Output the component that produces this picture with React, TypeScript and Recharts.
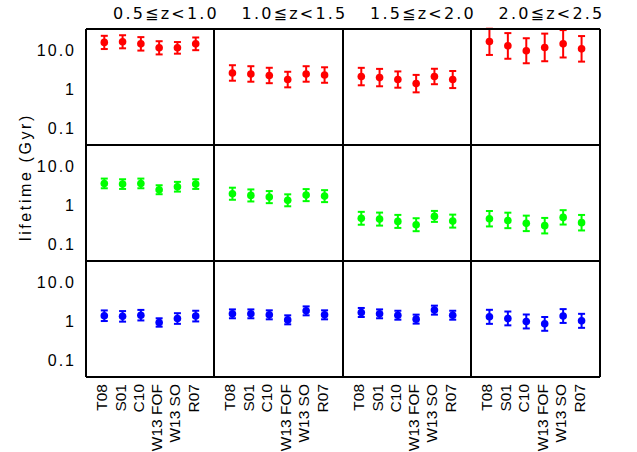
import React from 'react';
import { ScatterChart, Scatter, XAxis, YAxis, ErrorBar } from 'recharts';

// Halo-finder / model labels along the x axis of every panel
const models = ['T08', 'S01', 'C10', 'W13 FOF', 'W13 SO', 'R07'];
// Redshift bins, one per column
const redshiftBins = ['0.5≦z<1.0', '1.0≦z<1.5', '1.5≦z<2.0', '2.0≦z<2.5'];
const lifetimeTicks = [0.1, 1, 10];
const minorTicks = [0.04, 0.05, 0.06, 0.07, 0.08, 0.09, 0.2, 0.3, 0.4, 0.5, 0.6, 0.7, 0.8, 0.9, 2, 3, 4, 5, 6, 7, 8, 9, 20];

// Top row (red): lifetime in Gyr and its lower / upper bounds, per redshift bin
const redLifetime = [
  [13.5, 14.0, 12.4, 9.8, 9.8, 12.4],
  [2.19, 2.06, 1.88, 1.48, 2.06, 1.94],
  [1.77, 1.66, 1.48, 1.16, 1.77, 1.48],
  [14.3, 11.0, 8.2, 10.0, 12.4, 9.2],
];
const redLower = [
  [9.1, 9.5, 8.3, 6.6, 6.9, 8.5],
  [1.38, 1.30, 1.19, 0.93, 1.30, 1.22],
  [1.05, 0.99, 0.91, 0.69, 1.12, 0.89],
  [6.4, 5.1, 3.9, 4.4, 5.5, 4.3],
];
const redUpper = [
  [20.0, 20.7, 18.5, 14.5, 13.8, 18.1],
  [3.47, 3.27, 2.98, 2.35, 3.27, 3.07],
  [2.97, 2.79, 2.40, 1.95, 2.81, 2.46],
  [30.5, 23.5, 17.3, 22.8, 28.1, 19.7],
];

// Middle row (green)
const greenLifetime = [
  [3.04, 2.92, 3.04, 2.09, 2.50, 2.92],
  [1.65, 1.49, 1.35, 1.11, 1.52, 1.43],
  [0.38, 0.364, 0.317, 0.26, 0.427, 0.323],
  [0.372, 0.336, 0.282, 0.246, 0.403, 0.294],
];
const greenLower = [
  [2.28, 2.19, 2.28, 1.60, 1.87, 2.19],
  [1.15, 1.04, 0.94, 0.78, 1.06, 1.00],
  [0.26, 0.247, 0.215, 0.177, 0.308, 0.219],
  [0.235, 0.212, 0.178, 0.155, 0.263, 0.185],
];
const greenUpper = [
  [4.06, 3.90, 4.06, 2.73, 3.34, 3.90],
  [2.36, 2.13, 1.93, 1.59, 2.17, 2.04],
  [0.56, 0.536, 0.467, 0.383, 0.592, 0.475],
  [0.59, 0.533, 0.447, 0.39, 0.619, 0.466],
];

// Bottom row (blue)
const blueLifetime = [
  [1.15, 1.11, 1.19, 0.77, 0.98, 1.13],
  [1.29, 1.29, 1.22, 0.90, 1.54, 1.22],
  [1.40, 1.29, 1.19, 0.94, 1.61, 1.19],
  [1.08, 0.98, 0.82, 0.71, 1.13, 0.85],
];
const blueLower = [
  [0.84, 0.81, 0.87, 0.60, 0.71, 0.82],
  [0.99, 0.99, 0.93, 0.69, 1.18, 0.93],
  [1.07, 0.99, 0.91, 0.72, 1.23, 0.91],
  [0.71, 0.65, 0.54, 0.47, 0.75, 0.56],
];
const blueUpper = [
  [1.58, 1.52, 1.63, 0.99, 1.34, 1.55],
  [1.68, 1.68, 1.59, 1.18, 2.01, 1.59],
  [1.83, 1.68, 1.55, 1.23, 2.10, 1.55],
  [1.64, 1.48, 1.24, 1.07, 1.71, 1.29],
];

const rows = [
  { color: '#ff0000', values: redLifetime, lower: redLower, upper: redUpper },
  { color: '#00ff00', values: greenLifetime, lower: greenLower, upper: greenUpper },
  { color: '#0000ff', values: blueLifetime, lower: blueLower, upper: blueUpper },
];

const FONT = '"Liberation Sans", Arial, Helvetica, sans-serif';
const TITLE_FONT = '"DejaVu Sans", "Liberation Sans", sans-serif';
const COL_EDGES = [86, 214, 343, 471, 600];
const ROW_EDGES = [29, 145, 261, 377];
const Y_DOMAIN: [number, number] = [0.03, 30];
const X_DOMAIN: [number, number] = [0, 7];
const X_TICKS = [1, 2, 3, 4, 5, 6];
// axes are drawn on the frame itself, so they take (almost) no room
const THIN = 0.01;

const formatLifetime = (v: number) => (v >= 10 ? v.toFixed(1) : String(v));

const YLabelTick = (props: any) => {
  const { x, y, payload } = props;
  return (
    <text x={x} y={y} dy={9} textAnchor="end" fontFamily={FONT} fontSize={16} letterSpacing={2} fill="#000">
      {formatLifetime(payload.value)}
    </text>
  );
};

const XLabelTick = (props: any) => {
  const { x, y, payload } = props;
  const name = models[Math.round(payload.value) - 1] ?? '';
  return (
    <text
      x={x}
      y={y}
      dy={3}
      transform={`rotate(-90, ${x}, ${y})`}
      textAnchor="end"
      fontFamily={FONT}
      fontSize={15.5}
      fill="#000"
    >
      {name}
    </text>
  );
};

const frame = { stroke: '#000', strokeWidth: 2 };
const majorTick = { stroke: '#000', strokeWidth: 1.5 };
const minorTick = { stroke: '#000', strokeWidth: 1 };

function Panel({ row, col }: { row: number; col: number }) {
  const { color, values, lower, upper } = rows[row];
  const isLeft = col === 0;
  const isBottom = row === 2;
  const mL = isLeft ? 86 : 2;
  const mT = 2;
  const mR = 2;
  const mB = isBottom ? 75 : 2;
  const pw = COL_EDGES[col + 1] - COL_EDGES[col];
  const ph = ROW_EDGES[row + 1] - ROW_EDGES[row];

  const data = values[col].map((v, i) => ({
    x: i + 1,
    y: v,
    err: [v - lower[col][i], upper[col][i] - v],
  }));

  return (
    <div style={{ position: 'absolute', left: COL_EDGES[col] - mL, top: ROW_EDGES[row] - mT }}>
      <ScatterChart width={pw + mL + mR} height={ph + mT + mB} margin={{ top: mT, right: mR, bottom: mB, left: mL }}>
        <XAxis xAxisId="b" dataKey="x" type="number" orientation="bottom" mirror height={THIN}
          domain={X_DOMAIN} ticks={X_TICKS} allowDataOverflow tick={false} tickSize={3}
          axisLine={frame} tickLine={majorTick} />
        <XAxis xAxisId="t" dataKey="x" type="number" orientation="top" mirror height={THIN}
          domain={X_DOMAIN} ticks={X_TICKS} allowDataOverflow tick={false} tickSize={3}
          axisLine={frame} tickLine={majorTick} />
        {isBottom && (
          <XAxis xAxisId="lab" dataKey="x" type="number" orientation="bottom" height={THIN}
            domain={X_DOMAIN} ticks={X_TICKS} allowDataOverflow tick={<XLabelTick />} tickSize={0}
            tickMargin={7} axisLine={false} tickLine={false} interval={0} />
        )}
        <YAxis yAxisId="L" dataKey="y" type="number" scale="log" orientation="left" mirror width={THIN}
          domain={Y_DOMAIN} ticks={lifetimeTicks} allowDataOverflow tick={false} tickSize={4}
          axisLine={frame} tickLine={majorTick} interval={0} />
        <YAxis yAxisId="R" dataKey="y" type="number" scale="log" orientation="right" mirror width={THIN}
          domain={Y_DOMAIN} ticks={lifetimeTicks} allowDataOverflow tick={false} tickSize={4}
          axisLine={frame} tickLine={majorTick} interval={0} />
        <YAxis yAxisId="Lm" dataKey="y" type="number" scale="log" orientation="left" mirror width={THIN}
          domain={Y_DOMAIN} ticks={minorTicks} allowDataOverflow tick={false} tickSize={2}
          axisLine={false} tickLine={minorTick} interval={0} />
        <YAxis yAxisId="Rm" dataKey="y" type="number" scale="log" orientation="right" mirror width={THIN}
          domain={Y_DOMAIN} ticks={minorTicks} allowDataOverflow tick={false} tickSize={2}
          axisLine={false} tickLine={minorTick} interval={0} />
        {isLeft && (
          <YAxis yAxisId="lab" dataKey="y" type="number" scale="log" orientation="left" width={THIN}
            domain={Y_DOMAIN} ticks={lifetimeTicks} allowDataOverflow tick={<YLabelTick />} tickSize={0}
            tickMargin={10} axisLine={false} tickLine={false} interval={0} />
        )}
        <Scatter
          xAxisId="b"
          yAxisId="L"
          data={data}
          dataKey="y"
          isAnimationActive={false}
          shape={(p: any) => <circle cx={p.cx} cy={p.cy} r={3.8} fill={color} />}
        >
          <ErrorBar dataKey="err" direction="y" width={3.5} stroke={color} strokeWidth={2} isAnimationActive={false} />
        </Scatter>
      </ScatterChart>
    </div>
  );
}

export default function App() {
  const panels = [];
  for (let r = 0; r < 3; r++) {
    for (let c = 0; c < 4; c++) {
      panels.push(<Panel key={`${r}-${c}`} row={r} col={c} />);
    }
  }
  return (
    <div style={{ position: 'absolute', left: 0, top: 0, width: 637, height: 452, background: '#fff', overflow: 'hidden' }}>
      {panels}
      <svg width={637} height={452} style={{ position: 'absolute', left: 0, top: 0, pointerEvents: 'none' }}>
        {redshiftBins.map((t, c) => (
          <text key={t} x={(COL_EDGES[c] + COL_EDGES[c + 1]) / 2 + 16} y={18.5} textAnchor="middle"
            fontFamily={TITLE_FONT} fontSize={16} letterSpacing={2.2} fill="#000">
            {t}
          </text>
        ))}
        <text x={31} y={177} transform="rotate(-90, 31, 177)" textAnchor="middle"
          fontFamily={FONT} fontSize={16} letterSpacing={2.6} fill="#000">
          lifetime (Gyr)
        </text>
      </svg>
    </div>
  );
}
